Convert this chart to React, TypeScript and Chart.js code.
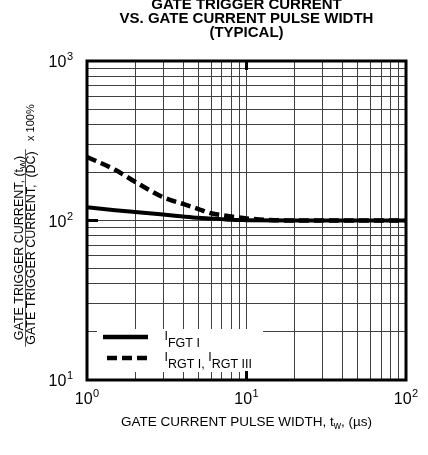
import React, { useEffect, useRef } from "react";
import { Chart, registerables } from "chart.js";

Chart.register(...registerables);

// ---- data ----
const xGridTicks = [1, 2, 3, 4, 5, 6, 7, 8, 9, 10, 20, 30, 40, 50, 60, 70, 80, 90, 100];
const yGridTicks = [10, 20, 30, 40, 50, 60, 70, 80, 90, 100, 200, 300, 400, 500, 600, 700, 800, 900, 1000];

const xLabelValues = [1, 10, 100];
const xLabelExps = ["0", "1", "2"];
const yLabelValues = [10, 100, 1000];
const yLabelExps = ["1", "2", "3"];

// I_FGT I (solid)
const fgtX = [1, 1.5, 2, 3, 4, 5, 6, 7, 8, 10, 20, 50, 100];
const fgtY = [121, 116, 113, 109, 106, 104, 103, 102, 101, 100.5, 100, 100, 100];

// I_RGT I, I_RGT III (dashed)
const rgtX = [1, 1.5, 2, 3, 4, 5, 6, 7, 8, 10, 12, 15, 20, 50, 100];
const rgtY = [250, 208, 175, 140, 127, 118, 111, 108, 106, 103, 101.5, 100.5, 100, 100, 100];

const titleLines = ["GATE TRIGGER CURRENT", "VS. GATE CURRENT PULSE WIDTH", "(TYPICAL)"];

const FONT = '"Liberation Sans", Arial, Helvetica, sans-serif';

const overlayPlugin = {
  id: "overlay",
  beforeDraw(chart: any) {
    const ctx = chart.ctx;
    ctx.save();
    ctx.fillStyle = "#ffffff";
    ctx.fillRect(0, 0, chart.width, chart.height);
    ctx.restore();
  },
  afterDraw(chart: any) {
    const ctx = chart.ctx as CanvasRenderingContext2D;
    const { left, right, top, bottom } = chart.chartArea;
    const xs = chart.scales.x;
    const ys = chart.scales.y;
    ctx.save();
    ctx.fillStyle = "#000";
    ctx.strokeStyle = "#000";

    // legend box
    ctx.fillStyle = "#fff";
    ctx.fillRect(97, 329, 166, 43);
    ctx.fillStyle = "#000";
    ctx.lineWidth = 4.5;
    ctx.lineCap = "butt";
    ctx.beginPath();
    ctx.moveTo(103, 337);
    ctx.lineTo(148, 337);
    ctx.stroke();
    ctx.setLineDash([10, 5]);
    ctx.beginPath();
    ctx.moveTo(107, 358);
    ctx.lineTo(148, 358);
    ctx.stroke();
    ctx.setLineDash([]);

    ctx.font = `12.5px ${FONT}`;
    ctx.textAlign = "left";
    ctx.textBaseline = "alphabetic";
    const drawI = (x: number, yMain: number, sub: string) => {
      ctx.fillText("I", x, yMain);
      const w = ctx.measureText("I").width;
      ctx.fillText(sub, x + w, yMain + 7);
      return x + w + ctx.measureText(sub).width;
    };
    drawI(164.5, 340, "FGT I");
    let nx = drawI(164.5, 361, "RGT I, ");
    drawI(nx, 361, "RGT III");

    // major ticks
    ctx.lineWidth = 3;
    const x10 = xs.getPixelForValue(10);
    ctx.beginPath();
    ctx.moveTo(x10, top);
    ctx.lineTo(x10, top + 9);
    ctx.moveTo(x10, bottom);
    ctx.lineTo(x10, bottom - 9);
    const y100 = ys.getPixelForValue(100);
    ctx.moveTo(left, y100);
    ctx.lineTo(left + 11, y100);
    ctx.moveTo(right, y100);
    ctx.lineTo(right - 11, y100);
    ctx.stroke();

    // border
    ctx.lineWidth = 3;
    ctx.strokeRect(left, top, right - left, bottom - top);

    // tick labels
    const baseFont = `16px ${FONT}`;
    const expFont = `11px ${FONT}`;
    yLabelValues.forEach((v, i) => {
      const py = ys.getPixelForValue(v);
      ctx.font = baseFont;
      const w1 = ctx.measureText("10").width;
      ctx.font = expFont;
      const w2 = ctx.measureText(yLabelExps[i]).width;
      const x0 = 73 - w1 - w2 - 0.5;
      ctx.font = baseFont;
      ctx.fillText("10", x0, py + 6);
      ctx.font = expFont;
      ctx.fillText(yLabelExps[i], x0 + w1 + 0.5, py - 1);
    });
    xLabelValues.forEach((v, i) => {
      const px = xs.getPixelForValue(v);
      ctx.font = baseFont;
      const w1 = ctx.measureText("10").width;
      ctx.font = expFont;
      const w2 = ctx.measureText(xLabelExps[i]).width;
      const x0 = px - (w1 + w2 + 0.5) / 2;
      ctx.font = baseFont;
      ctx.fillText("10", x0, 404);
      ctx.font = expFont;
      ctx.fillText(xLabelExps[i], x0 + w1 + 0.5, 397);
    });

    // title
    ctx.font = `bold 15px ${FONT}`;
    ctx.textAlign = "center";
    const cx = (left + right) / 2;
    titleLines.forEach((t, i) => {
      ctx.fillText(t, cx, 8.5 + i * 14);
    });

    // x axis title
    ctx.textAlign = "left";
    const xf = `13.5px ${FONT}`;
    const xfs = `10px ${FONT}`;
    ctx.font = xf;
    const p1 = "GATE CURRENT PULSE WIDTH, t";
    const p3 = ", (\u00B5s)";
    ctx.font = xf;
    const w1 = ctx.measureText(p1).width;
    ctx.font = xfs;
    const w2 = ctx.measureText("w").width;
    ctx.font = xf;
    const w3 = ctx.measureText(p3).width;
    let sx = cx - (w1 + w2 + w3) / 2;
    ctx.fillText(p1, sx, 426);
    ctx.font = xfs;
    ctx.fillText("w", sx + w1, 429);
    ctx.font = xf;
    ctx.fillText(p3, sx + w1 + w2, 426);

    // y axis title (fraction, rotated)
    const yf = `12.5px ${FONT}`;
    const yfs = `9.5px ${FONT}`;
    const midY = 248;
    const drawRot = (bx: number, startY: number, parts: { t: string; f: string; dy: number }[]) => {
      ctx.save();
      ctx.translate(bx, startY);
      ctx.rotate(-Math.PI / 2);
      let x = 0;
      parts.forEach((p) => {
        ctx.font = p.f;
        ctx.fillText(p.t, x, p.dy);
        x += ctx.measureText(p.t).width;
      });
      ctx.restore();
    };
    const measureParts = (parts: { t: string; f: string; dy: number }[]) =>
      parts.reduce((s, p) => {
        ctx.font = p.f;
        return s + ctx.measureText(p.t).width;
      }, 0);
    const num = [
      { t: "GATE TRIGGER CURRENT, (t", f: yf, dy: 0 },
      { t: "W", f: yfs, dy: 3 },
      { t: ")", f: yf, dy: 0 },
    ];
    const den = [{ t: "GATE TRIGGER CURRENT,  (DC)", f: yf, dy: 0 }];
    const nw = measureParts(num);
    const dw = measureParts(den);
    drawRot(23, midY + nw / 2, num);
    drawRot(35, midY + dw / 2, den);
    ctx.lineWidth = 1;
    ctx.strokeStyle = "#555";
    ctx.beginPath();
    ctx.moveTo(25.5, midY - Math.max(nw, dw) / 2 - 2);
    ctx.lineTo(25.5, midY + Math.max(nw, dw) / 2 + 2);
    ctx.stroke();
    drawRot(34, 141, [{ t: "x 100%", f: `11px ${FONT}`, dy: 0 }]);

    ctx.restore();
  },
};

export default function App() {
  const ref = useRef<HTMLCanvasElement | null>(null);
  useEffect(() => {
    if (!ref.current) return;
    const chart = new Chart(ref.current, {
      type: "line",
      data: {
        datasets: [
          {
            label: "IRGT I, IRGT III",
            data: rgtX.map((x, i) => ({ x, y: rgtY[i] })),
            borderColor: "#000",
            borderWidth: 4.5,
            borderDash: [10, 5],
            pointRadius: 0,
            fill: false,
            cubicInterpolationMode: "monotone",
          },
          {
            label: "IFGT I",
            data: fgtX.map((x, i) => ({ x, y: fgtY[i] })),
            borderColor: "#000",
            borderWidth: 4,
            pointRadius: 0,
            fill: false,
            cubicInterpolationMode: "monotone",
          },
        ],
      },
      options: {
        animation: false,
        responsive: false,
        devicePixelRatio: 1,
        layout: { padding: { top: 61, right: 22, left: 0, bottom: 0 } },
        plugins: { legend: { display: false }, tooltip: { enabled: false }, title: { display: false } },
        scales: {
          x: {
            type: "logarithmic",
            position: "bottom",
            min: 1,
            max: 100,
            afterBuildTicks: (s: any) => {
              s.ticks = xGridTicks.map((v) => ({ value: v }));
            },
            afterFit: (s: any) => {
              s.height = 75;
            },
            ticks: { display: false },
            grid: { color: "#404040", lineWidth: 1, drawTicks: false },
            border: { display: false },
          },
          y: {
            type: "logarithmic",
            position: "left",
            min: 10,
            max: 1000,
            afterBuildTicks: (s: any) => {
              s.ticks = yGridTicks.map((v) => ({ value: v }));
            },
            afterFit: (s: any) => {
              s.width = 87;
            },
            ticks: { display: false },
            grid: { color: "#404040", lineWidth: 1, drawTicks: false },
            border: { display: false },
          },
        },
      },
      plugins: [overlayPlugin],
    } as any);
    return () => chart.destroy();
  }, []);
  return (
    <div style={{ position: "fixed", left: 0, top: 0, width: 428, height: 455, background: "#fff" }}>
      <canvas ref={ref} width={428} height={455} style={{ display: "block" }} />
    </div>
  );
}
